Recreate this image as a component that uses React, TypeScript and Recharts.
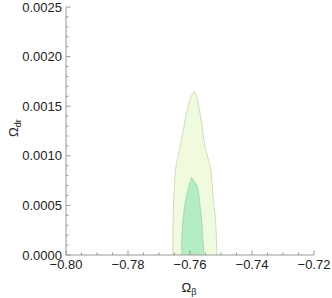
import { ComposedChart, Area, XAxis, YAxis } from 'recharts';

// outer (light) contour: y level, left and right x edge
const outerY = [0, 0.0002, 0.0004, 0.0006, 0.0008, 0.0009, 0.001, 0.0011, 0.0012, 0.0013, 0.0014, 0.0015, 0.0016, 0.00165];
const outerLo = [-0.7655, -0.7655, -0.7654, -0.7652, -0.7648, -0.7645, -0.7638, -0.7632, -0.7625, -0.7619, -0.7614, -0.7606, -0.7596, -0.7586];
const outerHi = [-0.7513, -0.7515, -0.7519, -0.7526, -0.7531, -0.7535, -0.7544, -0.7552, -0.7557, -0.7561, -0.7566, -0.7572, -0.7579, -0.7586];

// inner (darker) contour
const innerY = [0, 0.0001, 0.0002, 0.0003, 0.0004, 0.0005, 0.0006, 0.0007, 0.00078];
const innerLo = [-0.7626, -0.7627, -0.7626, -0.7624, -0.7621, -0.7617, -0.7611, -0.7603, -0.7595];
const innerHi = [-0.7555, -0.7557, -0.7559, -0.7561, -0.7564, -0.7568, -0.7571, -0.7578, -0.7595];

const xMajor = [-0.8, -0.78, -0.76, -0.74, -0.72];
const xMinor = [-0.795, -0.79, -0.785, -0.775, -0.77, -0.765, -0.755, -0.75, -0.745, -0.735, -0.73, -0.725];
const yMajor = [0, 0.0005, 0.001, 0.0015, 0.002, 0.0025];
const yMinor = [
  0.0001, 0.0002, 0.0003, 0.0004, 0.0006, 0.0007, 0.0008, 0.0009, 0.0011, 0.0012,
  0.0013, 0.0014, 0.0016, 0.0017, 0.0018, 0.0019, 0.0021, 0.0022, 0.0023, 0.0024,
];

const outerData = outerY.map((y, i) => ({ y, range: [outerLo[i], outerHi[i]] }));
const innerData = innerY.map((y, i) => ({ y, range: [innerLo[i], innerHi[i]] }));

const xTicks = [...xMajor, ...xMinor].sort((a, b) => a - b);
const yTicks = [...yMajor, ...yMinor].sort((a, b) => a - b);

const FRAME = '#999';
const TEXT = '#222';
const FONT = '"Liberation Sans", Arial, sans-serif';

const isMajor = (v: number, majors: number[]) => majors.some((m) => Math.abs(m - v) < 1e-9);

const BottomTick = (props: any) => {
  const { x, y, payload } = props;
  const major = isMajor(payload.value, xMajor);
  return (
    <g>
      <line x1={x} y1={y} x2={x} y2={y - (major ? 4.5 : 2.5)} stroke={FRAME} />
      {major && (
        <text x={x} y={y + 14} textAnchor="middle" fontSize={13} fontFamily={FONT} fill={TEXT}>
          {payload.value.toFixed(2).replace('-', '\u2212')}
        </text>
      )}
    </g>
  );
};

const TopTick = (props: any) => {
  const { x, y, payload } = props;
  const major = isMajor(payload.value, xMajor);
  return <line x1={x} y1={y} x2={x} y2={y + (major ? 4.5 : 2.5)} stroke={FRAME} />;
};

const LeftTick = (props: any) => {
  const { x, y, payload } = props;
  const major = isMajor(payload.value, yMajor);
  return (
    <g>
      <line x1={x} y1={y} x2={x + (major ? 4.5 : 2.5)} y2={y} stroke={FRAME} />
      {major && (
        <text x={x - 4} y={y + 4.5} textAnchor="end" fontSize={13} fontFamily={FONT} fill={TEXT}>
          {payload.value.toFixed(4)}
        </text>
      )}
    </g>
  );
};

const RightTick = (props: any) => {
  const { x, y, payload } = props;
  const major = isMajor(payload.value, yMajor);
  return <line x1={x} y1={y} x2={x - (major ? 4.5 : 2.5)} y2={y} stroke={FRAME} />;
};

const XTitle = (props: any) => {
  const { x, y, width } = props.viewBox;
  return (
    <text x={x + width / 2 - 1} y={y + 37} textAnchor="middle" fontSize={13} fontFamily={FONT} fill={TEXT}>
      Ω<tspan fontSize={9} dy={3}>β</tspan>
    </text>
  );
};

const YTitle = (props: any) => {
  const { x, y, height } = props.viewBox;
  const cx = x + 12;
  const cy = y + height / 2 - 3;
  return (
    <text x={cx} y={cy} transform={`rotate(-90 ${cx} ${cy})`} textAnchor="middle" fontSize={13} fontFamily={FONT} fill={TEXT}>
      Ω<tspan fontSize={9} dy={3}>dr</tspan>
    </text>
  );
};

export default function App() {
  return (
    <div style={{ position: 'absolute', left: 0, top: 0, background: '#fff' }}>
      <ComposedChart
        width={332}
        height={298}
        layout="vertical"
        margin={{ top: 7, right: 18, bottom: 8, left: 6 }}
      >
        <XAxis
          type="number"
          domain={[-0.8, -0.72]}
          allowDataOverflow
          ticks={xTicks}
          interval={0}
          height={35}
          tickSize={0}
          tickMargin={0}
          tickLine={false}
          axisLine={{ stroke: FRAME }}
          tick={<BottomTick />}
          label={<XTitle />}
        />
        <XAxis
          xAxisId="top"
          orientation="top"
          type="number"
          domain={[-0.8, -0.72]}
          allowDataOverflow
          ticks={xTicks}
          interval={0}
          height={0}
          tickSize={0}
          tickMargin={0}
          tickLine={false}
          axisLine={{ stroke: FRAME }}
          tick={<TopTick />}
        />
        <YAxis
          type="number"
          dataKey="y"
          domain={[0, 0.0025]}
          allowDataOverflow
          reversed
          ticks={yTicks}
          interval={0}
          width={60}
          tickSize={0}
          tickMargin={0}
          tickLine={false}
          axisLine={{ stroke: FRAME }}
          tick={<LeftTick />}
          label={<YTitle />}
        />
        <YAxis
          yAxisId="right"
          orientation="right"
          type="number"
          domain={[0, 0.0025]}
          allowDataOverflow
          reversed
          ticks={yTicks}
          interval={0}
          width={0}
          tickSize={0}
          tickMargin={0}
          tickLine={false}
          axisLine={{ stroke: FRAME }}
          tick={<RightTick />}
        />
        <Area
          data={outerData}
          dataKey="range"
          type="monotone"
          fill="#f0fbde"
          fillOpacity={1}
          stroke="#c6d2b2"
          strokeWidth={0.8}
          isAnimationActive={false}
        />
        <Area
          data={innerData}
          dataKey="range"
          type="monotone"
          fill="#b4ecc4"
          fillOpacity={1}
          stroke="#9fcfaa"
          strokeWidth={0.8}
          isAnimationActive={false}
        />
      </ComposedChart>
    </div>
  );
}
